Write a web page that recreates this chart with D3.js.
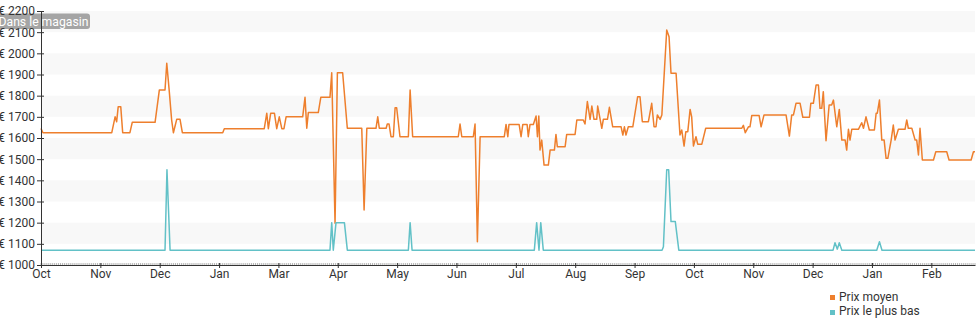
<!DOCTYPE html>
<html>
<head>
<meta charset="utf-8">
<script src="https://cdn.jsdelivr.net/npm/d3@7"></script>
<style>
  html, body { margin: 0; padding: 0; background: #fff; }
  svg { display: block; font-family: Roboto, "Noto Sans", sans-serif; }
</style>
</head>
<body>
<svg id="chart" width="980" height="325"></svg>
<script>
// Month tick labels, one every 30.44 days from the start of the range
const monthLabels = ["Oct","Nov","Dec","Jan","Mar","Apr","May","Jun","Jul","Aug","Sep","Oct","Nov","Dec","Jan","Feb"];
const monthStep = 30.44;
const dayRange = [0, 479];

// Price axis ticks (€)
const priceTicks = d3.range(1000, 2201, 100);

// Average price: [day, €]
const avgPrice = [
  [0,1645],[1,1625],[36.3,1625],[38,1700],[38.8,1677],[39.6,1748],[40.9,1748],[41.9,1625],
  [45.6,1625],[46.8,1674],[58.5,1674],[60.7,1827],[63.6,1827],[64.5,1953],[65.7,1830],[67,1685],
  [67.9,1625],[69.6,1688],[71.3,1688],[72.5,1625],[93.2,1625],[94,1644],[114.5,1644],[115.8,1717],
  [116.6,1644],[117.8,1717],[119.7,1717],[120.9,1644],[122.2,1700],[123.5,1644],[124.6,1644],
  [125.7,1700],[134.2,1700],[135.4,1792],[136.3,1646],[137.1,1720],[142.2,1720],[143.5,1792],
  [148.2,1792],[149.1,1908],[150.8,1197],[152,1908],[154.7,1908],[157.1,1646],[164.5,1646],
  [165.7,1260],[167.1,1646],[171.8,1646],[172.7,1700],[173.5,1646],[177,1646],[177.6,1666],
  [178.5,1666],[179.5,1606],[180.7,1606],[181.6,1743],[182.4,1743],[184.1,1606],[188.4,1606],
  [189.3,1827],[190.6,1606],[214,1606],[214.9,1666],[215.8,1606],[221.7,1606],[222.6,1666],
  [223.8,1110],[225.2,1606],[237.6,1606],[238.5,1664],[239.4,1606],[240,1664],[245.2,1664],
  [246.2,1606],[247.1,1664],[249.3,1664],[249.9,1606],[250.8,1664],[252.5,1664],[253.9,1704],
  [254.6,1606],[255.3,1704],[255.9,1543],[256.8,1590],[258,1472],[260.2,1472],[261.1,1543],
  [263.3,1543],[264.1,1617],[264.8,1559],[268.8,1559],[269.6,1617],[273.9,1617],[274.8,1685],
  [278.1,1685],[279,1666],[280.2,1772],[281.6,1688],[282.5,1751],[283.6,1688],[285,1688],
  [285.5,1751],[287.6,1646],[288.4,1688],[290.5,1688],[291.5,1745],[293.2,1653],[297.5,1653],
  [298.4,1614],[299.2,1653],[300,1614],[301.2,1653],[303.5,1653],[306,1795],[307.2,1795],
  [308.4,1677],[311.5,1677],[313.2,1764],[314.4,1653],[315.4,1653],[316.1,1709],[317.5,1688],
  [318.4,1709],[320.9,2110],[322.1,2078],[323.1,1906],[325.7,1906],[327.7,1614],[328.6,1638],
  [329.8,1562],[330.7,1630],[331.7,1630],[332.9,1735],[333.7,1700],[334.6,1562],[335.9,1606],
  [336.8,1571],[338.9,1571],[340.9,1646],[359.4,1646],[360.2,1660],[361.2,1625],[362.8,1653],
  [363.6,1653],[364.5,1706],[368.3,1706],[369.3,1653],[370.8,1709],[382.1,1709],[383.8,1609],
  [385,1709],[385.9,1709],[387.2,1764],[389.3,1764],[390.7,1698],[394.1,1698],[394.8,1764],
  [396.1,1764],[397.5,1850],[398.7,1850],[399.5,1740],[400.4,1740],[401.2,1819],[402.6,1587],
  [404.2,1756],[405.5,1756],[406.4,1779],[408.1,1653],[409.4,1735],[410.7,1590],[412.4,1590],
  [413.2,1543],[414.1,1641],[414.9,1590],[415.8,1641],[419.2,1641],[420.9,1672],[421.8,1646],
  [423.1,1700],[424.8,1638],[427.4,1638],[428.3,1717],[428.9,1717],[430,1779],[431.2,1590],
  [432.4,1590],[433.4,1504],[434.3,1504],[436,1590],[437.1,1661],[438,1590],[439.7,1641],
  [443.1,1641],[444,1685],[444.8,1646],[446.6,1646],[448.3,1590],[449.1,1590],[450,1520],
  [450.8,1646],[452,1496],[457.7,1496],[458.9,1535],[464.5,1535],[465.7,1496],[477,1496],
  [478.2,1535],[479,1535]
];

// Lowest price: [day, €]
const lowPrice = [
  [0,1070],[63.6,1070],[64.6,1450],[66.2,1070],[148.2,1070],[149.1,1200],[149.9,1070],
  [151.3,1200],[155.6,1200],[157.1,1070],[188.4,1070],[189.3,1200],[190.3,1070],
  [253,1070],[254.2,1200],[255.4,1070],[256.3,1200],[257.6,1070],[318.5,1070],[319.2,1086],
  [320.9,1450],[321.9,1450],[323.1,1205],[325.3,1205],[327.1,1070],[406.2,1070],[407.2,1105],
  [408.4,1075],[409.4,1105],[410.7,1070],[428.6,1070],[430,1110],[431.3,1070],[479,1070]
];

const seriesNames = ["Prix moyen", "Prix le plus bas"];
const seriesColors = ["#ee7f2d", "#62c1c7"];

const svg = d3.select("#chart");
const x = d3.scaleLinear().domain(dayRange).range([41, 975]);
const y = d3.scaleLinear().domain([1000, 2200]).range([265, 11]);

// Alternating horizontal bands
const bandStarts = priceTicks.filter(v => v < 2200 && ((v - 1100) / 100) % 2 === 0);
svg.append("g").selectAll("rect").data(bandStarts).join("rect")
  .attr("x", x(dayRange[0]))
  .attr("width", x(dayRange[1]) - x(dayRange[0]))
  .attr("y", d => y(d + 100))
  .attr("height", d => y(d) - y(d + 100))
  .attr("fill", "#f8f8f8");

// Lines
const line = d3.line().x(d => x(d[0])).y(d => y(d[1]));
[avgPrice, lowPrice].forEach((s, i) => {
  svg.append("path").datum(s)
    .attr("d", line)
    .attr("fill", "none")
    .attr("stroke", seriesColors[i])
    .attr("stroke-width", 1.5)
    .attr("stroke-linejoin", "round");
});

// Store label
const tag = svg.append("g");
tag.append("rect").attr("x", -6).attr("y", 13.5).attr("width", 96).attr("height", 15.5)
  .attr("rx", 3).attr("fill", "#9d9d9d").attr("opacity", 0.92);
tag.append("text").attr("x", -1.5).attr("y", 25.5).attr("font-size", 12.2)
  .attr("fill", "#ffffff").text("Dans le magasin");

// Y axis
const yAxis = svg.append("g").attr("transform", `translate(${x(dayRange[0])},0)`)
  .call(d3.axisLeft(y).tickValues(priceTicks).tickSize(4).tickSizeOuter(0).tickPadding(2)
    .tickFormat(d => "€ " + d));
yAxis.selectAll(".tick").append("line").attr("x1", 0).attr("x2", 3).attr("stroke", "currentColor");
yAxis.selectAll("text").attr("font-size", 12).attr("fill", "#333").attr("font-family", "Roboto, sans-serif");
yAxis.attr("color", "#333");

// X axis with daily minor ticks
const minor = svg.append("g");
minor.selectAll("line").data(d3.range(0, dayRange[1] + 1, 1)).join("line")
  .attr("x1", d => x(d)).attr("x2", d => x(d))
  .attr("y1", y(1000) - 2).attr("y2", y(1000))
  .attr("stroke", "#888").attr("stroke-width", 1).attr("opacity", 0.6);

const monthTicks = monthLabels.map((m, i) => i * monthStep);
const xAxis = svg.append("g").attr("transform", `translate(0,${y(1000)})`)
  .call(d3.axisBottom(x).tickValues(monthTicks).tickSize(3).tickSizeOuter(0).tickPadding(1)
    .tickFormat((d, i) => monthLabels[i]));
xAxis.selectAll(".tick").append("line").attr("y1", 0).attr("y2", -2).attr("stroke", "currentColor");
xAxis.selectAll("text").attr("font-size", 12).attr("fill", "#333").attr("font-family", "Roboto, sans-serif");
xAxis.attr("color", "#333");

// Legend
const legend = svg.append("g").attr("transform", "translate(830,0)");
seriesNames.forEach((name, i) => {
  legend.append("rect").attr("x", 0).attr("y", 295 + i * 15).attr("width", 5).attr("height", 5)
    .attr("fill", seriesColors[i]);
  legend.append("text").attr("x", 9).attr("y", 300.7 + i * 14.5).attr("font-size", 12)
    .attr("fill", "#333").text(name);
});
</script>
</body>
</html>
